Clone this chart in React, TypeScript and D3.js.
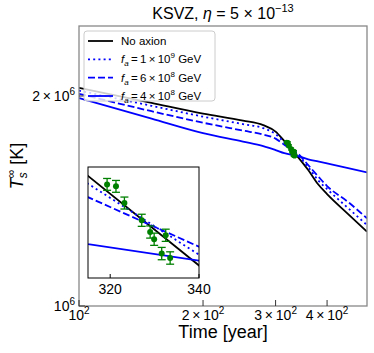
import React from 'react';
import * as d3 from 'd3';

// ---- data ----
const times = [100, 150, 200, 250, 280, 300, 315, 340, 360, 380, 400, 450, 500];
const noAxion = [2.0548e6, 1.9546e6, 1.887e6, 1.844e6, 1.8168e6, 1.7783e6, 1.7239e6, 1.635e6, 1.5663e6, 1.4956e6, 1.447e6, 1.3546e6, 1.278e6];
const fa1e9 = [2.036e6, 1.9364e6, 1.8684e6, 1.8228e6, 1.7989e6, 1.7636e6, 1.716e6, 1.6455e6, 1.5819e6, 1.5155e6, 1.4711e6, 1.3813e6, 1.3065e6];
const fa6e8 = [2.0146e6, 1.902e6, 1.8313e6, 1.7842e6, 1.7608e6, 1.7377e6, 1.7024e6, 1.6533e6, 1.5924e6, 1.5356e6, 1.4857e6, 1.4093e6, 1.3357e6];
const fa4e8 = [1.9861e6, 1.8563e6, 1.7695e6, 1.7206e6, 1.6953e6, 1.673e6, 1.6559e6, 1.6397e6, 1.6231e6, 1.6113e6, 1.6008e6, 1.5767e6, 1.5545e6];

const obsTime = [319.3, 321.3, 323.2, 327.1, 329.0, 329.9, 331.6, 332.5, 333.5];
const obsTemp = [1.7153e6, 1.7133e6, 1.6965e6, 1.6793e6, 1.6677e6, 1.6606e6, 1.6466e6, 1.6645e6, 1.6423e6];
const obsErr = [6000, 6000, 6000, 6000, 6000, 6000, 6000, 6000, 6000];

const legendMantissa = ['1', '6', '4'];
const legendExp = ['9', '8', '8'];

const xTickVals = [100, 200, 300, 400];
const xTickMant = ['', '2\u2009×\u2009', '3\u2009×\u2009', '4\u2009×\u2009'];
const yTickVals = [1e6, 2e6];
const yTickMant = ['', '2\u2009×\u2009'];
const yTickExp = ['6', '6'];
const insetTicks = [320, 340];

const FONT = "'Liberation Sans', Arial, Helvetica, sans-serif";

export default function App() {
  const W = 374, H = 353;
  const L = 79, R = 367, T = 26, B = 306;
  const IL = 88, IR = 199, IT = 167, IB = 278;

  const x = d3.scaleLog().domain([100, 500]).range([L, R]);
  const y = d3.scaleLog().domain([1e6, 2.52e6]).range([B, T]);
  const ix = d3.scaleLinear().domain([315, 340]).range([IL, IR]);
  const iy = d3.scaleLog().domain([1.623e6, 1.733e6]).range([IB, IT]);

  const series = [
    { vals: noAxion, color: '#000000', dash: undefined as string | undefined },
    { vals: fa1e9, color: '#0000ff', dash: '2,3.2' },
    { vals: fa6e8, color: '#0000ff', dash: '7,3' },
    { vals: fa4e8, color: '#0000ff', dash: undefined },
  ];

  const mainLine = d3.line<number>().x((_, i) => x(times[i])).y((d) => y(d)).curve(d3.curveMonotoneX);
  const insetLine = d3.line<number>().x((_, i) => ix(times[i])).y((d) => iy(d));

  const green = '#008000';

  const legendY = [41, 59.3, 77.7, 96];

  return (
    <svg width={W} height={H} style={{ position: 'absolute', left: 0, top: 0, background: '#fff' }} fontFamily={FONT}>
      <defs>
        <clipPath id="mainClip"><rect x={L} y={T} width={R - L} height={B - T} /></clipPath>
        <clipPath id="insetClip"><rect x={IL} y={IT} width={IR - IL} height={IB - IT} /></clipPath>
      </defs>
      <rect x={0} y={0} width={W} height={H} fill="#fff" />

      {/* main lines */}
      <g clipPath="url(#mainClip)">
        {series.map((s, k) => (
          <path key={k} d={mainLine(s.vals) || ''} fill="none" stroke={s.color} strokeWidth={1.8} strokeDasharray={s.dash} />
        ))}
        {obsTime.map((t, i) => (
          <g key={i}>
            <line x1={x(t)} x2={x(t)} y1={y(obsTemp[i] - obsErr[i])} y2={y(obsTemp[i] + obsErr[i])} stroke={green} strokeWidth={1.2} />
            <line x1={x(t) - 3} x2={x(t) + 3} y1={y(obsTemp[i] - obsErr[i])} y2={y(obsTemp[i] - obsErr[i])} stroke={green} strokeWidth={1} />
            <line x1={x(t) - 3} x2={x(t) + 3} y1={y(obsTemp[i] + obsErr[i])} y2={y(obsTemp[i] + obsErr[i])} stroke={green} strokeWidth={1} />
            <circle cx={x(t)} cy={y(obsTemp[i])} r={2.8} fill={green} />
          </g>
        ))}
      </g>

      {/* main frame */}
      <rect x={L} y={T} width={R - L} height={B - T} fill="none" stroke="#888" strokeWidth={1.3} />

      {/* x ticks */}
      {xTickVals.map((v, i) => (
        <g key={i}>
          <line x1={x(v)} x2={x(v)} y1={B} y2={B - 6} stroke="#333" strokeWidth={1} />
          <text x={x(v)} y={320} fontSize={14} textAnchor="middle" fill="#000">
            {xTickMant[i]}10<tspan fontSize={10} dy={-6}>2</tspan>
          </text>
        </g>
      ))}
      {/* y ticks */}
      {yTickVals.map((v, i) => (
        <g key={i}>
          <line x1={L} x2={L + 6} y1={y(v)} y2={y(v)} stroke="#333" strokeWidth={1} />
          <text x={75} y={y(v) + 5} fontSize={14} textAnchor="end" fill="#000">
            {yTickMant[i]}10<tspan fontSize={10} dy={-6}>{yTickExp[i]}</tspan>
          </text>
        </g>
      ))}

      {/* inset */}
      <rect x={IL} y={IT} width={IR - IL} height={IB - IT} fill="#fff" />
      <g clipPath="url(#insetClip)">
        {series.map((s, k) => (
          <path key={k} d={insetLine(s.vals) || ''} fill="none" stroke={s.color} strokeWidth={1.8} strokeDasharray={s.dash} />
        ))}
        {obsTime.map((t, i) => (
          <g key={i}>
            <line x1={ix(t)} x2={ix(t)} y1={iy(obsTemp[i] - obsErr[i])} y2={iy(obsTemp[i] + obsErr[i])} stroke={green} strokeWidth={1.3} />
            <line x1={ix(t) - 4} x2={ix(t) + 4} y1={iy(obsTemp[i] - obsErr[i])} y2={iy(obsTemp[i] - obsErr[i])} stroke={green} strokeWidth={1.3} />
            <line x1={ix(t) - 4} x2={ix(t) + 4} y1={iy(obsTemp[i] + obsErr[i])} y2={iy(obsTemp[i] + obsErr[i])} stroke={green} strokeWidth={1.3} />
            <circle cx={ix(t)} cy={iy(obsTemp[i])} r={3} fill={green} />
          </g>
        ))}
      </g>
      <rect x={IL} y={IT} width={IR - IL} height={IB - IT} fill="none" stroke="#000" strokeWidth={1} />
      {insetTicks.map((v, i) => (
        <g key={i}>
          <line x1={ix(v)} x2={ix(v)} y1={IB} y2={IB - 4} stroke="#000" strokeWidth={1} />
          <text x={ix(v)} y={294} fontSize={14} textAnchor="middle" fill="#000">{v}</text>
        </g>
      ))}

      {/* legend */}
      <rect x={84} y={31} width={131} height={70} rx={3} fill="#fff" fillOpacity={0.8} stroke="#ccc" strokeWidth={1} />
      {series.map((s, k) => (
        <line key={k} x1={88} x2={113} y1={legendY[k]} y2={legendY[k]} stroke={s.color} strokeWidth={1.8} strokeDasharray={s.dash} />
      ))}
      <text x={121} y={legendY[0] + 4} fontSize={11.5} fill="#000">No axion</text>
      {legendMantissa.map((m, i) => (
        <text key={i} x={121} y={legendY[i + 1] + 4} fontSize={11.5} fill="#000">
          <tspan fontStyle="italic">f</tspan>
          <tspan fontSize={8} dy={3} fontStyle="italic">a</tspan>
          <tspan dy={-3}>{'\u2009=\u2009'}{m}{'\u2009×\u2009'}10</tspan>
          <tspan fontSize={8} dy={-5}>{legendExp[i]}</tspan>
          <tspan dy={5}> GeV</tspan>
        </text>
      ))}

      {/* title */}
      <text x={223} y={19} fontSize={16} textAnchor="middle" fill="#000">
        KSVZ, <tspan fontStyle="italic">η</tspan> = 5 × 10<tspan fontSize={11} dy={-7}>−13</tspan>
      </text>

      {/* axis labels */}
      <text x={223} y={338} fontSize={18} textAnchor="middle" fill="#000">Time [year]</text>
      <text transform="translate(23,166) rotate(-90)" fontSize={18} textAnchor="middle" fill="#000">
        <tspan fontStyle="italic">T</tspan>
        <tspan fontSize={12} dy={4} fontStyle="italic">s</tspan>
        <tspan fontSize={12} dx={-6} dy={-12}>∞</tspan>
        <tspan dy={8}> [K]</tspan>
      </text>
    </svg>
  );
}
